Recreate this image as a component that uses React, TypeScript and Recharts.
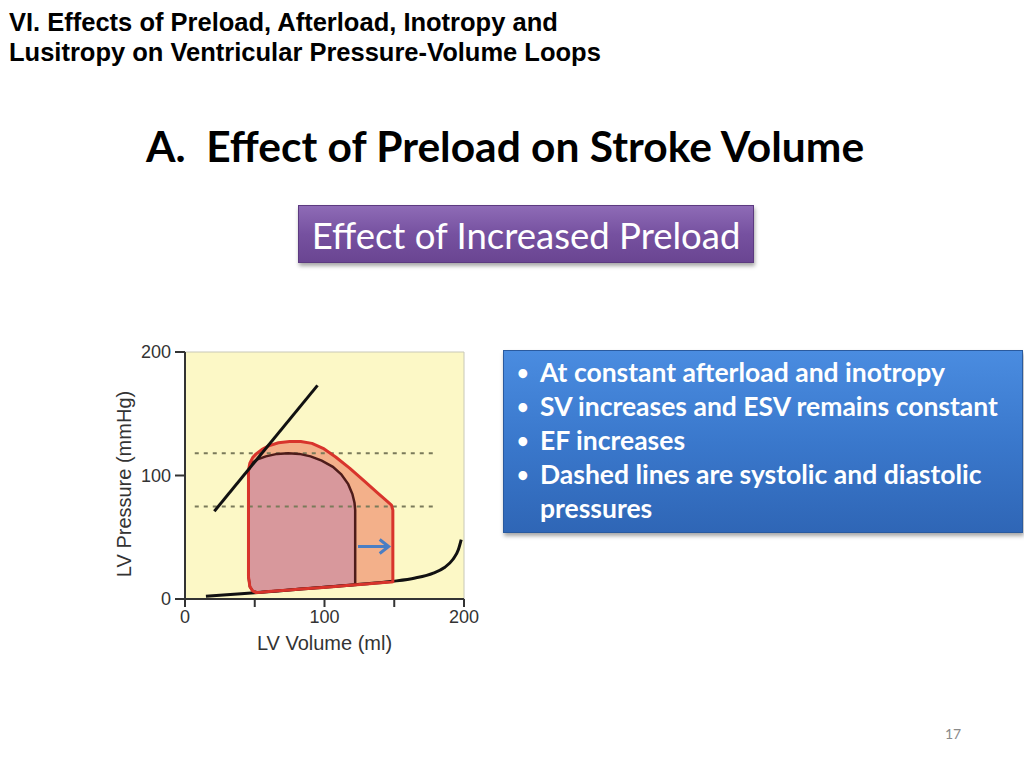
import React from "react";
import {
  ComposedChart,
  Line,
  Area,
  XAxis,
  YAxis,
  CartesianGrid,
  ReferenceLine,
} from "recharts";

// axis ticks
const xTicks = [0, 50, 100, 150, 200];
const xTickLabels = ["0", "", "100", "", "200"];
const yTicks = [0, 100, 200];

// end-systolic pressure-volume relation (straight line)
const espvr = [
  { x: 21, y: 71 },
  { x: 95, y: 173 },
];

// end-diastolic pressure-volume relation
const edpvr = [
  { x: 15, y: 2.2 },
  { x: 30, y: 3.5 },
  { x: 50, y: 5.1 },
  { x: 75, y: 7.3 },
  { x: 100, y: 9.5 },
  { x: 122, y: 11.6 },
  { x: 149, y: 14.3 },
  { x: 165, y: 17 },
  { x: 178, y: 21 },
  { x: 186, y: 25.5 },
  { x: 192, y: 32 },
  { x: 196, y: 40 },
  { x: 198, y: 48 },
];

// increased-preload loop: volume, lower and upper pressure
const bigLoop = [
  { x: 45.5, lo: 18, hi: 104 },
  { x: 46.5, lo: 10, hi: 110 },
  { x: 48.5, lo: 6.5, hi: 114.5 },
  { x: 51, lo: 5.2, hi: 117.5 },
  { x: 55, lo: 5.5, hi: 121 },
  { x: 60, lo: 6, hi: 124 },
  { x: 67, lo: 6.6, hi: 126.5 },
  { x: 75, lo: 7.3, hi: 127.5 },
  { x: 83, lo: 8, hi: 127.5 },
  { x: 91, lo: 8.7, hi: 126 },
  { x: 99, lo: 9.4, hi: 122 },
  { x: 108, lo: 10.2, hi: 115 },
  { x: 118, lo: 11.1, hi: 106 },
  { x: 128, lo: 12, hi: 96 },
  { x: 138, lo: 12.9, hi: 86 },
  { x: 145, lo: 13.5, hi: 79 },
  { x: 148, lo: 13.8, hi: 76 },
  { x: 149, lo: 14, hi: 72 },
];

// baseline loop
const smallLoop = [
  { x: 45.5, lo: 18, hi: 103 },
  { x: 46.5, lo: 10, hi: 107.5 },
  { x: 48.5, lo: 6.5, hi: 110.5 },
  { x: 52, lo: 5.3, hi: 113 },
  { x: 58, lo: 5.8, hi: 115.5 },
  { x: 66, lo: 6.5, hi: 117.5 },
  { x: 74, lo: 7.2, hi: 118 },
  { x: 82, lo: 8, hi: 117.5 },
  { x: 90, lo: 8.7, hi: 115.5 },
  { x: 98, lo: 9.5, hi: 112 },
  { x: 106, lo: 10.2, hi: 107 },
  { x: 112, lo: 10.8, hi: 101 },
  { x: 117, lo: 11.2, hi: 93 },
  { x: 120, lo: 11.4, hi: 85 },
  { x: 121.5, lo: 11.5, hi: 78 },
  { x: 122, lo: 11.6, hi: 72 },
];

const systolicP = 118;
const diastolicP = 75;
const dashFrom = 7;
const dashTo = 180;

const arrowPts = [
  { x: 124, y: 42.5 },
  { x: 146, y: 42.5 },
];

const bullets = [
  "At constant afterload and inotropy",
  "SV increases and ESV remains constant",
  "EF increases",
  "Dashed lines are systolic and diastolic",
];
const bulletTail = "pressures";

const toRange = (loop: { x: number; lo: number; hi: number }[]) =>
  loop.map((p) => ({ x: p.x, range: [p.lo, p.hi] }));

const toOutline = (loop: { x: number; lo: number; hi: number }[]) => {
  const top = loop.map((p) => ({ x: p.x, y: p.hi }));
  const bottom = [...loop].reverse().map((p) => ({ x: p.x, y: p.lo }));
  return [...top, ...bottom, top[0]];
};

const tickFont = { fontFamily: "Liberation Sans, Arial, sans-serif", fontSize: 18, fill: "#333" };
const titleFont = { fontFamily: "Liberation Sans, Arial, sans-serif", fontSize: 20, fill: "#333" };

const ArrowHead = (props: any) => {
  const { cx, cy, index } = props;
  if (index !== arrowPts.length - 1) return <g key={index} />;
  return (
    <polyline
      key={index}
      points={`${cx - 9},${cy - 7} ${cx},${cy} ${cx - 9},${cy + 7}`}
      fill="none"
      stroke="#4a7ec4"
      strokeWidth={3}
    />
  );
};

function PVChart() {
  return (
    <ComposedChart
      width={390}
      height={330}
      margin={{ top: 22, right: 26, bottom: 0, left: 0 }}
    >
      <CartesianGrid
        fill="#fcf8c6"
        stroke="#c8c8b8"
        horizontalCoordinatesGenerator={({ offset }: any) => [offset.top]}
        verticalCoordinatesGenerator={({ offset }: any) => [offset.left + offset.width]}
      />
      <XAxis
        type="number"
        dataKey="x"
        domain={[0, 200]}
        ticks={xTicks}
        tickFormatter={(v: number) => xTickLabels[xTicks.indexOf(v)]}
        height={61}
        tickSize={8}
        tickMargin={3}
        axisLine={{ stroke: "#333", strokeWidth: 2 }}
        tickLine={{ stroke: "#333", strokeWidth: 2 }}
        tick={tickFont}
        label={{ value: "LV Volume (ml)", position: "insideBottom", offset: 10, style: titleFont }}
      />
      <YAxis
        type="number"
        domain={[0, 200]}
        ticks={yTicks}
        width={85}
        tickSize={10}
        tickMargin={4}
        axisLine={{ stroke: "#333", strokeWidth: 2 }}
        tickLine={{ stroke: "#333", strokeWidth: 2 }}
        tick={tickFont}
        label={{
          content: () => (
            <text
              x={24}
              y={154}
              transform="rotate(-90 24 154)"
              textAnchor="middle"
              dominantBaseline="central"
              style={titleFont}
            >
              LV Pressure (mmHg)
            </text>
          ),
        }}
      />
      <ReferenceLine
        segment={[{ x: dashFrom, y: systolicP }, { x: dashTo, y: systolicP }]}
        stroke="#7a7a5a"
        strokeWidth={2}
        strokeDasharray="4 5"
      />
      <ReferenceLine
        segment={[{ x: dashFrom, y: diastolicP }, { x: dashTo, y: diastolicP }]}
        stroke="#7a7a5a"
        strokeWidth={2}
        strokeDasharray="4 5"
      />
      <Area
        data={toRange(bigLoop)}
        dataKey="range"
        type="linear"
        fill="#f3b08a"
        fillOpacity={1}
        stroke="none"
        isAnimationActive={false}
      />
      <Area
        data={toRange(smallLoop)}
        dataKey="range"
        type="linear"
        fill="#d8989c"
        fillOpacity={1}
        stroke="none"
        isAnimationActive={false}
      />
      <Line
        data={edpvr}
        dataKey="y"
        type="monotone"
        stroke="#111"
        strokeWidth={3}
        dot={false}
        isAnimationActive={false}
      />
      <Line
        data={toOutline(smallLoop)}
        dataKey="y"
        type="linear"
        stroke="#4e1c1a"
        strokeWidth={2.5}
        dot={false}
        isAnimationActive={false}
      />
      <Line
        data={toOutline(bigLoop)}
        dataKey="y"
        type="linear"
        stroke="#d8342c"
        strokeWidth={3}
        strokeLinejoin="round"
        dot={false}
        isAnimationActive={false}
      />
      <Line
        data={espvr}
        dataKey="y"
        type="linear"
        stroke="#111"
        strokeWidth={3}
        dot={false}
        isAnimationActive={false}
      />
      <Line
        data={arrowPts}
        dataKey="y"
        type="linear"
        stroke="#4a7ec4"
        strokeWidth={3}
        dot={ArrowHead}
        isAnimationActive={false}
      />
    </ComposedChart>
  );
}

export default function App() {
  return (
    <div
      style={{
        position: "absolute",
        left: 0,
        top: 0,
        width: 1024,
        height: 768,
        background: "#fff",
        overflow: "hidden",
      }}
    >
      <div
        style={{
          position: "absolute",
          left: 9,
          top: 7,
          fontFamily: "Liberation Sans, Arial, sans-serif",
          fontWeight: "bold",
          fontSize: 25.5,
          lineHeight: "30px",
          color: "#000",
          whiteSpace: "nowrap",
        }}
      >
        <div>VI. Effects of Preload, Afterload, Inotropy and</div>
        <div>Lusitropy on Ventricular Pressure-Volume Loops</div>
      </div>

      <div
        style={{
          position: "absolute",
          left: 0,
          width: 1010,
          top: 119,
          textAlign: "center",
          fontFamily: "Lato, sans-serif",
          fontWeight: "bold",
          fontSize: 42.5,
          lineHeight: "54px",
          color: "#000",
          whiteSpace: "nowrap",
        }}
      >
        A.&nbsp;&nbsp;Effect of Preload on Stroke Volume
      </div>

      <div
        style={{
          position: "absolute",
          left: 298,
          top: 205,
          width: 456,
          height: 58,
          background: "linear-gradient(#8e6bb6, #7651a0 50%, #6a4592)",
          border: "1px solid #5c3a80",
          boxSizing: "border-box",
          boxShadow: "1px 3px 4px rgba(0,0,0,0.35)",
          color: "#fff",
          fontFamily: "Lato, sans-serif",
          fontSize: 36.5,
          lineHeight: "58px",
          textAlign: "center",
          whiteSpace: "nowrap",
        }}
      >
        Effect of Increased Preload
      </div>

      <div
        style={{
          position: "absolute",
          left: 503,
          top: 350,
          width: 520,
          height: 183,
          background: "linear-gradient(#4a8ce0, #3a78cc 50%, #2f66b6)",
          border: "1px solid #2a5a9e",
          boxSizing: "border-box",
          boxShadow: "1px 3px 4px rgba(0,0,0,0.35)",
          color: "#fff",
          fontFamily: "Lato, sans-serif",
          fontWeight: "bold",
          fontSize: 26.5,
          lineHeight: "34px",
          paddingTop: 4,
          whiteSpace: "nowrap",
        }}
      >
        {bullets.map((b) => (
          <div key={b} style={{ position: "relative", paddingLeft: 36 }}>
            <span style={{ position: "absolute", left: 13, fontSize: 20 }}>•</span>
            {b}
          </div>
        ))}
        <div style={{ paddingLeft: 36 }}>{bulletTail}</div>
      </div>

      <div style={{ position: "absolute", left: 100, top: 330 }}>
        <PVChart />
      </div>

      <div
        style={{
          position: "absolute",
          left: 945,
          top: 725,
          fontFamily: "Lato, sans-serif",
          fontSize: 14,
          color: "#8a8a8a",
        }}
      >
        17
      </div>
    </div>
  );
}
